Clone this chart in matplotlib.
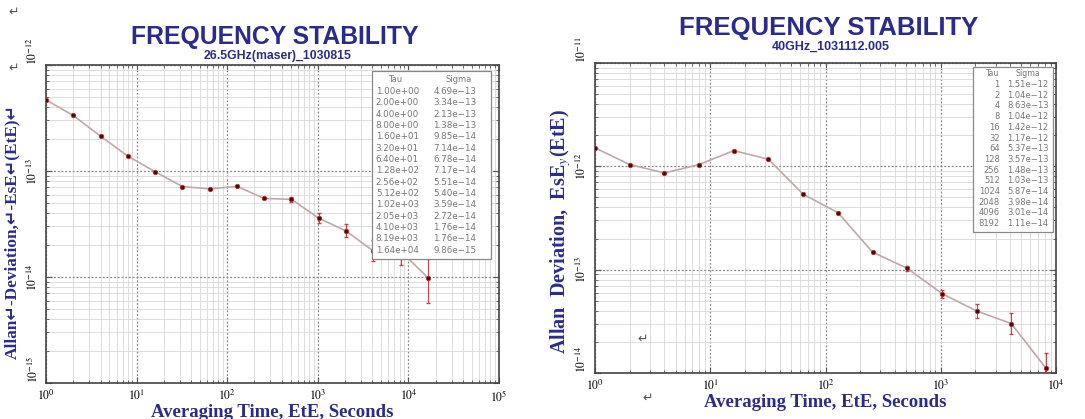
import numpy as np
import matplotlib
matplotlib.use("Agg")
import matplotlib.pyplot as plt
from matplotlib.ticker import FixedLocator, FuncFormatter, NullFormatter
from matplotlib.patches import Rectangle

plt.rcParams['mathtext.fontset'] = 'stix'

# ---------------- data ----------------
left_tau = [1, 2, 4, 8, 16, 32, 64, 128, 256, 512, 1024, 2048, 4096, 8192, 16384]
left_sigma = [4.69e-13, 3.34e-13, 2.13e-13, 1.38e-13, 9.85e-14, 7.14e-14, 6.78e-14,
              7.17e-14, 5.51e-14, 5.40e-14, 3.59e-14, 2.72e-14, 1.76e-14, 1.76e-14, 9.86e-15]
left_err_lo = [0, 0, 0, 0, 0, 0, 0, 0, 0, 0.3e-14, 0.35e-14, 0.35e-14, 0.35e-14, 0.45e-14, 0.42e-14]
left_err_hi = [0, 0, 0, 0, 0, 0, 0, 0, 0, 0.3e-14, 0.4e-14, 0.45e-14, 0.45e-14, 0.6e-14, 0.5e-14]
left_tau_labels = ["1.00e+00", "2.00e+00", "4.00e+00", "8.00e+00", "1.60e+01", "3.20e+01",
                   "6.40e+01", "1.28e+02", "2.56e+02", "5.12e+02", "1.02e+03", "2.05e+03",
                   "4.10e+03", "8.19e+03", "1.64e+04"]
left_sigma_labels = ["4.69e-13", "3.34e-13", "2.13e-13", "1.38e-13", "9.85e-14", "7.14e-14",
                     "6.78e-14", "7.17e-14", "5.51e-14", "5.40e-14", "3.59e-14", "2.72e-14",
                     "1.76e-14", "1.76e-14", "9.86e-15"]

right_tau = [1, 2, 4, 8, 16, 32, 64, 128, 256, 512, 1024, 2048, 4096, 8192]
right_sigma = [1.51e-12, 1.04e-12, 8.63e-13, 1.04e-12, 1.42e-12, 1.17e-12, 5.37e-13,
               3.57e-13, 1.48e-13, 1.03e-13, 5.87e-14, 3.98e-14, 3.01e-14, 1.11e-14]
right_err_lo = [0, 0, 0, 0, 0, 0, 0, 0, 0, 0.06e-13, 0.5e-14, 0.55e-14, 0.6e-14, 0.25e-14]
right_err_hi = [0, 0, 0, 0, 0, 0, 0, 0, 0, 0.06e-13, 0.55e-14, 0.7e-14, 0.8e-14, 0.45e-14]
right_tau_labels = ["1", "2", "4", "8", "16", "32", "64", "128", "256", "512", "1024",
                    "2048", "4096", "8192"]
right_sigma_labels = ["1.51e-12", "1.04e-12", "8.63e-13", "1.04e-12", "1.42e-12", "1.17e-12",
                      "5.37e-13", "3.57e-13", "1.48e-13", "1.03e-13", "5.87e-14", "3.98e-14",
                      "3.01e-14", "1.11e-14"]

left_xdecades = [0, 1, 2, 3, 4, 5]
left_ydecades = [-15, -14, -13, -12]
right_xdecades = [0, 1, 2, 3, 4]
right_ydecades = [-14, -13, -12, -11]

TITLE = "FREQUENCY STABILITY"
left_sub = "26.5GHz(maser)_1030815"
right_sub = "40GHz_1031112.005"
ylabel_left = "Allan\u21b5-Deviation,\u21b5-EsE\u21b5(EtE)\u21b5"
ylabel_right = "Allan  Deviation,  EsE$_y$(EtE)"
xlabel = "Averaging Time, EtE, Seconds"

BLUE = "#2b2b8c"
W, H = 1085, 419
fig = plt.figure(figsize=(W / 100, H / 100), dpi=100)
fig.patch.set_facecolor("white")


def px(x0, y0, x1, y1):
    return [x0 / W, 1 - y1 / H, (x1 - x0) / W, (y1 - y0) / H]


def tickfmt(v, pos):
    e = int(round(np.log10(v)))
    return r"$10^{%d}$" % e


def minors(decades):
    out = []
    for d in decades[:-1]:
        out += [m * 10.0 ** d for m in range(2, 10)]
    return out


def setup(ax, xdec, ydec):
    ax.set_xscale("log")
    ax.set_yscale("log")
    ax.set_xlim(10.0 ** xdec[0], 10.0 ** xdec[-1])
    ax.set_ylim(10.0 ** ydec[0], 10.0 ** ydec[-1])
    ax.xaxis.set_major_locator(FixedLocator([10.0 ** d for d in xdec]))
    ax.yaxis.set_major_locator(FixedLocator([10.0 ** d for d in ydec]))
    ax.xaxis.set_minor_locator(FixedLocator(minors(xdec)))
    ax.yaxis.set_minor_locator(FixedLocator(minors(ydec)))
    ax.xaxis.set_major_formatter(FuncFormatter(tickfmt))
    ax.yaxis.set_major_formatter(FuncFormatter(tickfmt))
    ax.xaxis.set_minor_formatter(NullFormatter())
    ax.yaxis.set_minor_formatter(NullFormatter())
    ax.grid(True, which="major", color="#888888", linestyle=(0, (1.5, 1.5)), linewidth=0.9)
    ax.grid(True, which="minor", color="#d8d8d8", linestyle="-", linewidth=0.6)
    ax.tick_params(which="both", direction="in", top=True, right=True, color="#555555")
    ax.tick_params(which="major", length=4, labelsize=8.5, pad=4)
    ax.tick_params(which="minor", length=2)
    for s in ax.spines.values():
        s.set_color("#444444")
        s.set_linewidth(1.2)


def align_yticks(ax):
    lo, hi = ax.get_ylim()
    for t in ax.yaxis.get_major_ticks():
        lab = t.label1
        lab.set_rotation(90)
        loc = t.get_loc()
        if np.isclose(np.log10(loc), np.log10(lo)) or np.isclose(np.log10(loc), np.log10(hi)):
            lab.set_va("bottom")
        else:
            lab.set_va("center")


def draw(ax, tau, sig, elo, ehi):
    ax.plot(tau, sig, color="#c0a8a8", linewidth=1.2, zorder=3)
    ax.errorbar(tau, sig, yerr=[elo, ehi], fmt="none", ecolor="#d04040",
                elinewidth=0.8, capsize=1.5, zorder=4)
    ax.plot(tau, sig, linestyle="none", marker="o", markersize=3.2,
            markerfacecolor="#3a1010", markeredgecolor="#c03030", markeredgewidth=0.6, zorder=5)


def table(ax, box, taus, sigs, head_x, tau_x, tau_ha, sig_x, top, step, fs):
    x0, y0, x1, y1 = box
    ax.add_patch(Rectangle((x0, y0), x1 - x0, y1 - y0, transform=ax.transAxes,
                           facecolor="white", edgecolor="#888888", linewidth=0.9, zorder=6))
    ax.text(head_x[0], top, "Tau", transform=ax.transAxes, fontsize=fs - 0.3, color="#777777",
            ha="center", va="center", zorder=7)
    ax.text(head_x[1], top, "Sigma", transform=ax.transAxes, fontsize=fs - 0.3, color="#777777",
            ha="center", va="center", zorder=7)
    for i, (t, s) in enumerate(zip(taus, sigs)):
        y = top - step * (i + 1)
        ax.text(tau_x, y, t, transform=ax.transAxes, fontsize=fs, color="#777777",
                ha=tau_ha, va="center", zorder=7)
        ax.text(sig_x, y, s.replace("-", "\u2212"), transform=ax.transAxes,
                fontsize=fs, color="#777777", ha="left", va="center", zorder=7)


LABEL_FONT = ["Liberation Serif", "DejaVu Sans"]

# ---------------- left chart ----------------
axL = fig.add_axes(px(46, 65, 499, 383))
setup(axL, left_xdecades, left_ydecades)
draw(axL, left_tau, left_sigma, left_err_lo, left_err_hi)
table(axL, (0.72, 0.39, 0.982, 0.981), left_tau_labels, left_sigma_labels,
      (0.77, 0.91), 0.728, "left", 0.855, 0.953, 0.0357, 6.3)
axL.set_ylabel(ylabel_left, family=LABEL_FONT, fontsize=12.4, color=BLUE,
               fontweight="bold", labelpad=1)
axL.yaxis.set_label_coords(-0.057, 0.475)
axL.set_xlabel(xlabel, family="Liberation Serif", fontsize=13.5, color=BLUE,
               fontweight="bold", labelpad=0)
fig.text(275 / W, 1 - 37 / H, TITLE, ha="center", va="center", fontsize=17.8,
         fontweight="bold", color=BLUE, family="Liberation Sans")
fig.text(278 / W, 1 - 56 / H, left_sub, ha="center", va="center", fontsize=8.8,
         fontweight="bold", color=BLUE, family="Liberation Sans")

# ---------------- right chart ----------------
axR = fig.add_axes(px(595, 63, 1056, 373))
setup(axR, right_xdecades, right_ydecades)
draw(axR, right_tau, right_sigma, right_err_lo, right_err_hi)
table(axR, (0.82, 0.455, 0.993, 0.987), right_tau_labels, right_sigma_labels,
      (0.86, 0.94), 0.878, "right", 0.894, 0.965, 0.0345, 6.0)
axR.set_ylabel(ylabel_right, family="Liberation Serif", fontsize=14.5, color=BLUE,
               fontweight="bold", labelpad=1)
axR.yaxis.set_label_coords(-0.048, 0.455)
axR.set_xlabel(xlabel, family="Liberation Serif", fontsize=13.5, color=BLUE,
               fontweight="bold", labelpad=1)
fig.text(829 / W, 1 - 28 / H, TITLE, ha="center", va="center", fontsize=18.5,
         fontweight="bold", color=BLUE, family="Liberation Sans")
fig.text(831 / W, 1 - 47 / H, right_sub, ha="center", va="center", fontsize=9,
         fontweight="bold", color=BLUE, family="Liberation Sans")

# paragraph marks from the source document
for (x, y) in [(14, 12), (14, 68), (643, 339), (648, 398)]:
    fig.text(x / W, 1 - y / H, "\u21b5", ha="center", va="center", fontsize=9,
             color="#555555", family="DejaVu Sans")

fig.canvas.draw()
align_yticks(axL)
align_yticks(axR)
fig.savefig("out.png", dpi=100)
